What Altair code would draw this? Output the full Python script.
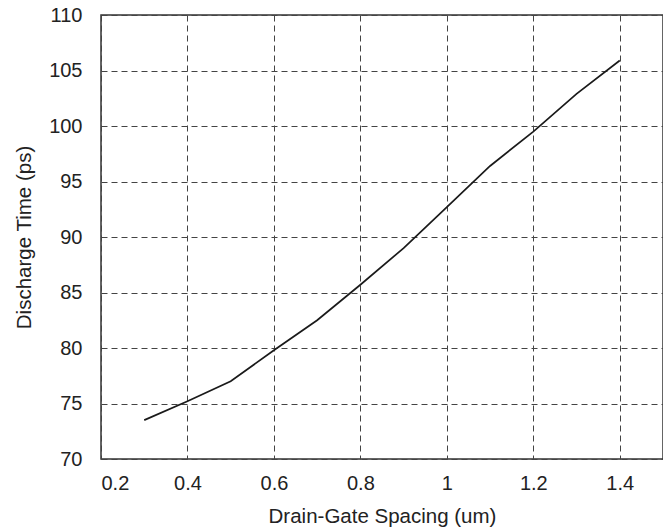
import altair as alt
import pandas as pd

spacing = [0.3, 0.4, 0.5, 0.6, 0.7, 0.8, 0.9, 1.0, 1.1, 1.2, 1.3, 1.4]
discharge = [73.5, 75.2, 77.0, 79.8, 82.5, 85.7, 89.0, 92.7, 96.4, 99.5, 102.9, 105.9]
x_ticks = [0.2, 0.4, 0.6, 0.8, 1.0, 1.2, 1.4]
y_ticks = [70, 75, 80, 85, 90, 95, 100, 105, 110]

df = pd.DataFrame({"x": spacing, "y": discharge})

FONT = "Liberation Sans"
INK = "#222222"

chart = alt.Chart(df).mark_line(color="#1a1a1a", strokeWidth=1.7).encode(
    x=alt.X("x:Q", scale=alt.Scale(domain=[0.2, 1.5], nice=False, zero=False),
            axis=alt.Axis(values=x_ticks, title="Drain-Gate Spacing (um)",
                          labelExpr="format(datum.value, '~g')",
                          grid=True, gridDash=[6, 4], gridColor="#444444", gridOpacity=1,
                          gridWidth=1, domain=False, ticks=False, labelPadding=14,
                          labelFontSize=20, titleFontSize=20.5,
                          titleY=63, titleBaseline="alphabetic",
                          labelFont=FONT, titleFont=FONT, labelColor=INK,
                          titleColor=INK, titleFontWeight="normal")),
    y=alt.Y("y:Q", scale=alt.Scale(domain=[70, 110], nice=False, zero=False),
            axis=alt.Axis(values=y_ticks, title="Discharge Time (ps)",
                          grid=True, gridDash=[6, 4], gridColor="#444444", gridOpacity=1,
                          gridWidth=1, domain=False, ticks=False, labelPadding=19,
                          labelFontSize=20, titleFontSize=20.5,
                          titleX=-71, titleBaseline="alphabetic",
                          labelFont=FONT, titleFont=FONT, labelColor=INK,
                          titleColor=INK, titleFontWeight="normal")),
).properties(
    width=562, height=444,
    autosize=alt.AutoSizeParams(type="none"),
    padding={"left": 93, "top": 7, "right": 0, "bottom": 68},
).configure_view(stroke="#333333", strokeWidth=1.5)

chart.save("out.html", embed_options={"renderer": "svg", "actions": False})
